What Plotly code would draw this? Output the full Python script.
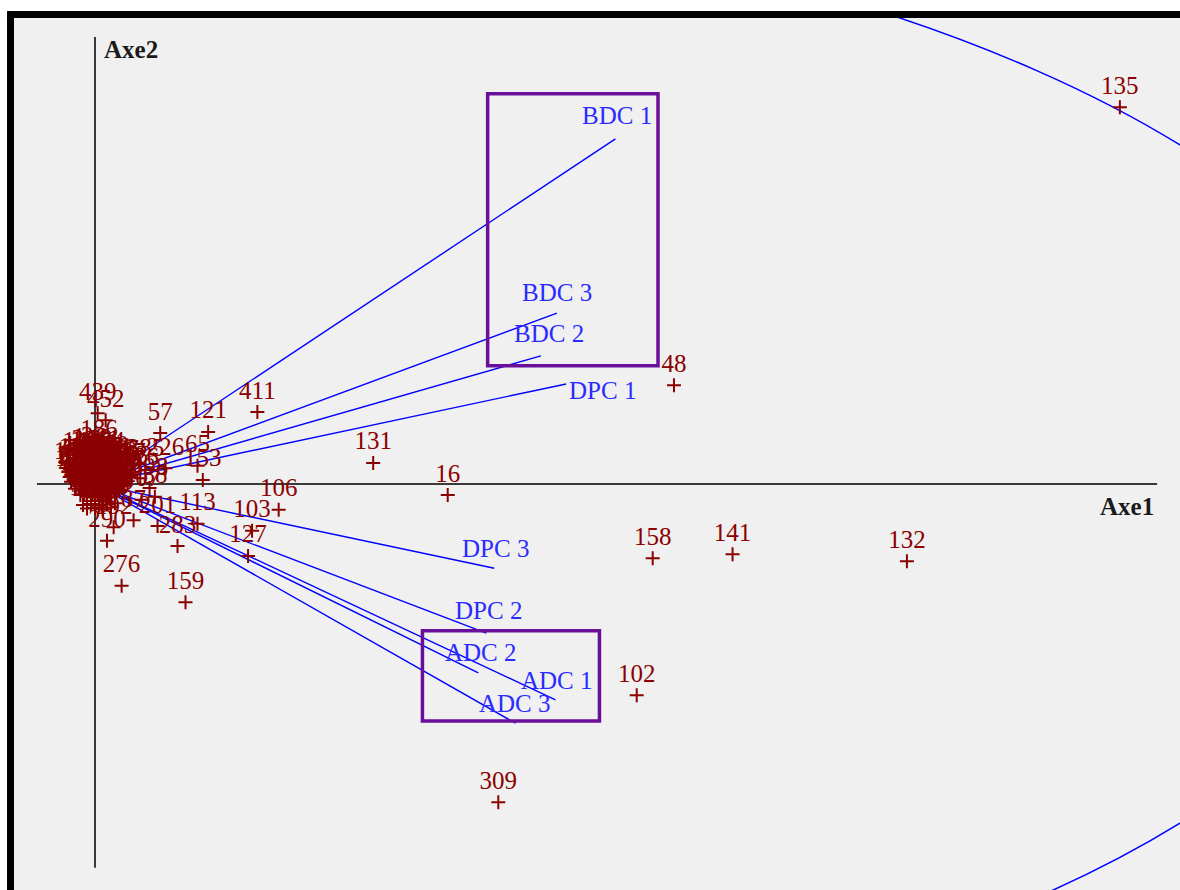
import plotly.graph_objects as go

# Active variables: coordinates on the correlation circle (Axe1, Axe2)
var_names = ["BDC 1", "BDC 2", "BDC 3", "DPC 1", "DPC 2", "DPC 3", "ADC 1", "ADC 2", "ADC 3"]
var_axe1 = [0.391, 0.335, 0.347, 0.354, 0.294, 0.300, 0.346, 0.288, 0.316]
var_axe2 = [0.590, 0.219, 0.292, 0.171, -0.255, -0.144, -0.369, -0.323, -0.409]

# Individuals away from the centre of the plane (biplot scale)
ind_ids = [
    "135", "48", "158", "141", "132", "102", "309", "16", "131", "411",
    "106", "103", "127", "159", "276", "57", "121", "439", "452", "186",
    "226", "65", "153", "113", "283", "290", "192", "201", "87", "38",
    "385", "398", "407", "426",
]
ind_axe1 = [
    0.770, 0.435, 0.419, 0.479, 0.610, 0.407, 0.303, 0.265, 0.209, 0.122,
    0.138, 0.118, 0.115, 0.068, 0.020, 0.049, 0.085, 0.002, 0.008, 0.003,
    0.053, 0.077, 0.081, 0.077, 0.062, 0.009, 0.014, 0.047, 0.029, 0.045,
    0.038, 0.041, 0.035, 0.034,
]
ind_axe2 = [
    0.644, 0.169, -0.127, -0.120, -0.132, -0.361, -0.544, -0.019, 0.036, 0.123,
    -0.044, -0.080, -0.123, -0.202, -0.174, 0.087, 0.089, 0.121, 0.109, 0.058,
    0.027, 0.031, 0.007, -0.068, -0.106, -0.097, -0.074, -0.072, -0.062, -0.022,
    0.024, -0.007, -0.027, 0.010,
]

# Individuals packed near the origin
core_ids = [
    "1", "3", "5", "8", "11", "14", "19", "23", "27", "31",
    "34", "40", "44", "49", "53", "60", "67", "70", "76", "81",
    "84", "90", "97", "101", "105", "108", "112", "116", "119", "123",
    "128", "133", "137", "143", "149", "152", "156", "161", "164", "170",
    "173", "177", "181", "185", "190", "194", "198", "203", "207", "211",
    "215", "219", "224", "229", "233", "238", "242", "247", "253", "257",
    "262", "266", "270", "275", "279", "284", "289", "293", "298", "304",
    "308", "313", "319", "324", "331", "337", "342", "349", "361", "378",
    "392",
    "2", "6", "9", "12", "15", "18", "21", "26", "29", "33",
    "36", "39", "42", "46", "51", "55", "58", "62", "64", "69",
    "73", "78", "82", "86", "89", "93", "96", "99", "104", "109",
    "111", "115", "118", "120",
]
core_axe1 = [
    -0.012, -0.006, 0.000, 0.005, 0.010,
    -0.015, -0.009, -0.003, 0.003, 0.008, 0.013,
    -0.016, -0.011, -0.005, 0.001, 0.006, 0.011, 0.016,
    -0.014, -0.008, -0.002, 0.004, 0.009, 0.014, 0.020,
    -0.017, -0.012, -0.006, 0.000, 0.006, 0.012, 0.018, 0.024,
    -0.015, -0.010, -0.004, 0.002, 0.008, 0.013, 0.019, 0.026,
    -0.016, -0.011, -0.005, 0.001, 0.007, 0.012, 0.017, 0.023,
    -0.014, -0.009, -0.003, 0.003, 0.009, 0.015, 0.021,
    -0.012, -0.007, -0.001, 0.005, 0.011, 0.017, 0.022,
    -0.010, -0.005, 0.001, 0.007, 0.012, 0.018,
    -0.008, -0.002, 0.004, 0.010, 0.016,
    -0.006, 0.000, 0.006, 0.012,
    -0.003, 0.003, 0.009,
    -0.013, -0.002, 0.008,
    -0.018, -0.011, 0.003, 0.010, 0.017,
    -0.019, -0.008, 0.005, 0.015, 0.022,
    -0.018, -0.007, 0.005, 0.013, 0.019,
    -0.015, -0.003, 0.008, 0.014,
    -0.011, 0.002, 0.008,
    -0.009, -0.003, 0.003, 0.009, 0.015,
    -0.006, 0.000, 0.006, 0.012,
]
core_axe2 = [
    0.043, 0.045, 0.041, 0.044, 0.040,
    0.036, 0.038, 0.035, 0.037, 0.034, 0.036,
    0.030, 0.028, 0.031, 0.029, 0.031, 0.028, 0.030,
    0.024, 0.026, 0.023, 0.025, 0.022, 0.025, 0.023,
    0.019, 0.017, 0.020, 0.018, 0.019, 0.017, 0.020, 0.018,
    0.013, 0.011, 0.014, 0.012, 0.013, 0.011, 0.014, 0.012,
    0.007, 0.009, 0.006, 0.008, 0.006, 0.009, 0.007, 0.006,
    0.002, 0.000, 0.003, 0.001, 0.003, 0.000, 0.002,
    -0.004, -0.006, -0.003, -0.005, -0.004, -0.006, -0.003,
    -0.010, -0.011, -0.009, -0.011, -0.010, -0.012,
    -0.016, -0.017, -0.015, -0.017, -0.016,
    -0.022, -0.023, -0.021, -0.022,
    -0.029, -0.028, -0.030,
    0.040, 0.039, 0.042,
    0.026, 0.022, 0.021, 0.027, 0.027,
    0.012, 0.016, 0.016, 0.015, 0.010,
    0.004, 0.004, 0.005, 0.004, -0.001,
    -0.008, -0.007, -0.007, -0.013,
    -0.019, -0.019, -0.025,
    -0.036, -0.034, -0.037, -0.035, -0.033,
    -0.042, -0.041, -0.043, -0.040,
]

# Highlighted variable groups (Axe1 min/max, Axe2 min/max)
group_boxes = [
    (0.295, 0.423, 0.202, 0.667),
    (0.246, 0.379, -0.405, -0.251),
]

RED = "#8b0000"
BLUE = "#0000ff"
LABEL_BLUE = "#2b2bff"
PURPLE = "#6a0f99"
SERIF = "Liberation Serif, Times New Roman, serif"

fig = go.Figure()

# Correlation circle
fig.add_shape(type="circle", xref="x", yref="y", x0=-1, y0=-1, x1=1, y1=1,
              line=dict(color=BLUE, width=1.5), layer="below")

# Factorial axes
fig.add_shape(type="line", xref="x", yref="y", x0=-0.0436, x1=0.798, y0=0, y1=0,
              line=dict(color="#3a3a3a", width=2), layer="below")
fig.add_shape(type="line", xref="x", yref="y", x0=0, x1=0, y0=-0.656, y1=0.764,
              line=dict(color="#3a3a3a", width=2), layer="below")

# Variable vectors from the origin
for vx, vy in zip(var_axe1, var_axe2):
    fig.add_trace(go.Scatter(x=[0, vx], y=[0, vy], mode="lines",
                             line=dict(color=BLUE, width=1.4),
                             hoverinfo="skip", showlegend=False))

# Individuals: dense core first, then the outlying ones
ind_marker = dict(symbol="cross-thin", size=10, color=RED, line=dict(color=RED, width=2))
ind_font = dict(family=SERIF, size=25, color=RED)
fig.add_trace(go.Scatter(x=core_axe1, y=core_axe2, text=core_ids, mode="markers+text",
                         textposition="top center", marker=ind_marker,
                         textfont=ind_font, showlegend=False))
fig.add_trace(go.Scatter(x=ind_axe1, y=ind_axe2, text=ind_ids, mode="markers+text",
                         textposition="top center", marker=ind_marker,
                         textfont=ind_font, showlegend=False))

# Variable labels (placement relative to the vector tip)
label_place = {
    "BDC 1": (2, 23, "center"), "BDC 2": (8, 22, "center"), "BDC 3": (0, 21, "center"),
    "DPC 1": (1, -7, "left"), "DPC 2": (2, 23, "center"), "DPC 3": (1, 20, "center"),
    "ADC 1": (1, 19, "center"), "ADC 2": (3, 20, "center"), "ADC 3": (-1, 20, "center"),
}
for name, vx, vy in zip(var_names, var_axe1, var_axe2):
    dx, dy, anchor = label_place[name]
    fig.add_annotation(x=vx, y=vy, text=name, showarrow=False,
                       xanchor=anchor, yanchor="middle", xshift=dx, yshift=dy,
                       font=dict(family=SERIF, size=25, color=LABEL_BLUE))

# Boxes around the variable groups
for x0, x1, y0, y1 in group_boxes:
    fig.add_shape(type="rect", xref="x", yref="y", x0=x0, x1=x1, y0=y0, y1=y1,
                  line=dict(color=PURPLE, width=3.5), fillcolor="rgba(0,0,0,0)")

# Axis titles
fig.add_annotation(x=0.005, y=0.742, text="<b>Axe2</b>", showarrow=False,
                   xanchor="left", yanchor="middle",
                   font=dict(family=SERIF, size=25, color="#1a1a1a"))
fig.add_annotation(x=0.797, y=-0.0393, text="<b>Axe1</b>", showarrow=False,
                   xanchor="right", yanchor="middle",
                   font=dict(family=SERIF, size=25, color="#1a1a1a"))

# Window frame (top and left edges)
fig.add_shape(type="rect", xref="paper", yref="paper", x0=-0.006, x1=1.0,
              y0=1.0, y1=1.008, fillcolor="black", line=dict(width=0), layer="above")
fig.add_shape(type="rect", xref="paper", yref="paper", x0=-0.006, x1=0.0,
              y0=-0.01, y1=1.008, fillcolor="black", line=dict(width=0), layer="above")

fig.update_layout(
    width=1180, height=890,
    margin=dict(l=14, r=0, t=18, b=0),
    paper_bgcolor="white", plot_bgcolor="#f0f0f0",
    showlegend=False,
    xaxis=dict(range=[-0.06086, 0.81518], visible=False, fixedrange=True),
    yaxis=dict(range=[-0.69402, 0.79658], visible=False, fixedrange=True),
)

fig.write_html("out.html", config={"displayModeBar": False})
